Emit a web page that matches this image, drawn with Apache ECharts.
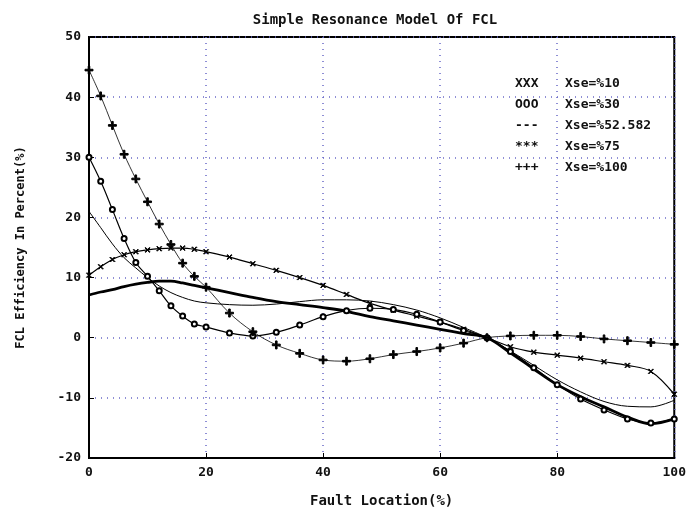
<!DOCTYPE html>
<html>
<head>
<meta charset="utf-8">
<script src="https://cdn.jsdelivr.net/npm/echarts@6/dist/echarts.min.js"></script>
<style>
html,body{margin:0;padding:0;background:#fff;}
#chart{width:689px;height:513px;}
</style>
</head>
<body>
<div id="chart"></div>
<script>
// ---- data ----
const xs = [0, 2, 4, 6, 8, 10, 12, 14, 16, 18, 20, 24, 28, 32, 36, 40, 44, 48, 52, 56, 60, 64, 68, 72, 76, 80, 84, 88, 92, 96, 100];
const seriesNames = ['Xse=%10', 'Xse=%30', 'Xse=%52.582', 'Xse=%75', 'Xse=%100'];
const legendKeys = ['XXX', 'OOO', '---', '***', '+++'];
const xse10 = [10.4, 11.8, 13.0, 13.8, 14.3, 14.6, 14.8, 14.9, 14.9, 14.7, 14.3, 13.4, 12.3, 11.2, 10.0, 8.7, 7.2, 5.7, 4.6, 3.6, 2.6, 1.4, 0, -1.5, -2.4, -2.9, -3.4, -4.0, -4.6, -5.6, -9.4];
const xse30 = [30.0, 26.0, 21.3, 16.5, 12.5, 10.2, 7.8, 5.3, 3.6, 2.3, 1.8, 0.8, 0.3, 0.9, 2.1, 3.5, 4.5, 4.9, 4.7, 3.9, 2.6, 1.2, 0, -2.3, -5.0, -7.8, -10.2, -12.0, -13.5, -14.2, -13.5];
const xse52 = [21.0, 18.3, 15.6, 13.3, 11.6, 10.0, 8.6, 7.5, 6.7, 6.1, 5.8, 5.5, 5.4, 5.6, 6.0, 6.3, 6.3, 6.1, 5.5, 4.6, 3.3, 1.7, 0, -2.2, -4.6, -7.0, -9.0, -10.6, -11.4, -11.5, -10.4];
const xse75 = [7.1, 7.6, 8.0, 8.5, 8.9, 9.2, 9.4, 9.4, 9.1, 8.7, 8.3, 7.5, 6.7, 6.0, 5.5, 5.0, 4.4, 3.5, 2.8, 2.1, 1.4, 0.7, 0, -2.5, -5.2, -7.8, -9.8, -11.5, -13.2, -14.3, -13.5];
const xse100 = [44.5, 40.2, 35.3, 30.5, 26.4, 22.6, 18.9, 15.5, 12.4, 10.2, 8.4, 4.1, 1.0, -1.2, -2.6, -3.7, -3.9, -3.5, -2.8, -2.3, -1.7, -0.9, 0, 0.3, 0.4, 0.4, 0.2, -0.2, -0.5, -0.8, -1.1];
const xTicks = [0, 20, 40, 60, 80, 100];
const yTicks = [-20, -10, 0, 10, 20, 30, 40, 50];

const values = [xse10, xse30, xse52, xse75, xse100];
const pair = arr => xs.map((x, i) => [x, arr[i]]);

const FONT = '"DejaVu Sans Mono", "Liberation Mono", monospace';
const plusPath = 'path://M4,0 L6,0 L6,4 L10,4 L10,6 L6,6 L6,10 L4,10 L4,6 L0,6 L0,4 L4,4 Z';

const styles = [
  { symbol: 'path://M0,1 L1,0 L5,4 L9,0 L10,1 L6,5 L10,9 L9,10 L5,6 L1,10 L0,9 L4,5 Z', symbolSize: 5, lw: 1.2 },
  { symbol: 'emptyCircle', symbolSize: 5, lw: 1.2 },
  { symbol: 'none', symbolSize: 0, lw: 1 },
  { symbol: 'none', symbolSize: 0, lw: 2.8 },
  { symbol: plusPath, symbolSize: 8, lw: 0.8 }
];

const chart = echarts.init(document.getElementById('chart'), null, { renderer: 'canvas' });
chart.setOption({
  animation: false,
  backgroundColor: '#ffffff',
  title: {
    text: 'Simple Resonance Model Of FCL',
    left: 370, top: 8, textAlign: 'center',
    textStyle: { fontFamily: FONT, fontSize: 14, fontWeight: 'bold', color: '#111' }
  },
  grid: { left: 89, right: 7, top: 37, bottom: 52, show: true, borderColor: '#000', borderWidth: 2, backgroundColor: 'transparent' },
  legend: {
    data: seriesNames,
    orient: 'vertical',
    left: 505, top: 72,
    itemGap: 8,
    itemWidth: 0, itemHeight: 0,
    icon: 'none',
    formatter: name => '{k|' + legendKeys[seriesNames.indexOf(name)] + '}' + name,
    textStyle: {
      fontFamily: FONT, fontSize: 13, fontWeight: 'bold', color: '#111',
      rich: { k: { width: 50, fontFamily: FONT, fontSize: 13, fontWeight: 'bold', color: '#111' } }
    }
  },
  xAxis: {
    type: 'value', min: 0, max: 100, interval: 20,
    name: 'Fault Location(%)', nameLocation: 'middle', nameGap: 36,
    nameTextStyle: { fontFamily: FONT, fontSize: 14, fontWeight: 'bold', color: '#111' },
    axisLine: { show: true, onZero: false, lineStyle: { color: '#000', width: 2 } },
    axisTick: { show: true, inside: true, length: 5, lineStyle: { color: '#000' } },
    axisLabel: { fontFamily: FONT, fontSize: 13, fontWeight: 'bold', color: '#111', margin: 8,
      formatter: v => xTicks.includes(v) ? String(v) : '' },
    splitLine: { show: true, lineStyle: { color: '#6a6ac8', type: [1, 5], width: 1.5 } }
  },
  yAxis: {
    type: 'value', min: -20, max: 50, interval: 10,
    name: 'FCL Efficiency In Percent(%)', nameLocation: 'middle', nameGap: 62, nameRotate: 90,
    nameTextStyle: { fontFamily: FONT, fontSize: 12, fontWeight: 'bold', color: '#111' },
    axisLine: { show: true, onZero: false, lineStyle: { color: '#000', width: 2 } },
    axisTick: { show: true, inside: true, length: 5, lineStyle: { color: '#000' } },
    axisLabel: { fontFamily: FONT, fontSize: 13, fontWeight: 'bold', color: '#111', margin: 8,
      formatter: v => yTicks.includes(v) ? String(v) : '' },
    splitLine: { show: true, lineStyle: { color: '#6a6ac8', type: [1, 5], width: 1.5 } }
  },
  series: values.map((arr, i) => ({
    name: seriesNames[i],
    type: 'line',
    smooth: 0.35,
    data: pair(arr),
    symbol: styles[i].symbol,
    symbolSize: styles[i].symbolSize,
    showSymbol: styles[i].symbol !== 'none',
    itemStyle: { color: '#000', borderColor: '#000', borderWidth: 1 },
    lineStyle: { color: '#000', width: styles[i].lw },
    z: 3
  }))
});
</script>
</body>
</html>
